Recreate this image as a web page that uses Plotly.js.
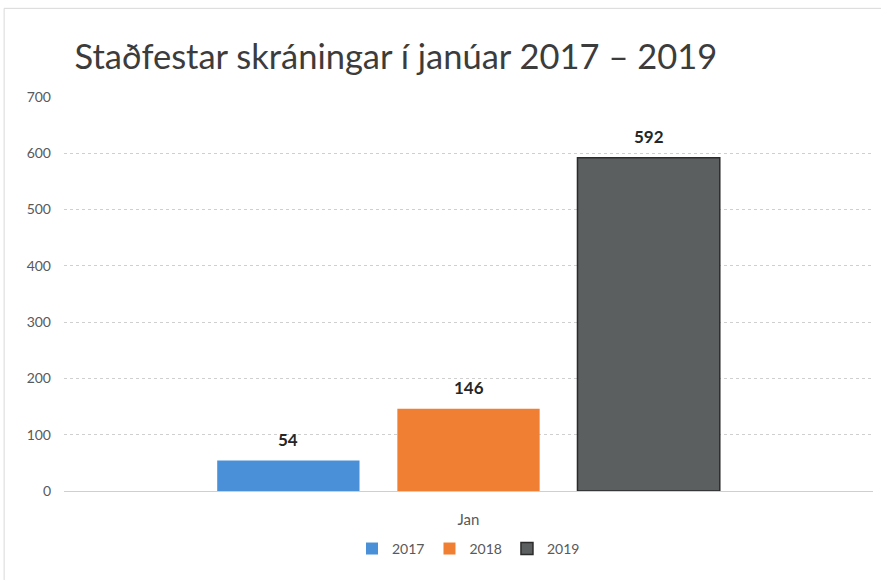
<!DOCTYPE html>
<html>
<head>
<meta charset="utf-8">
<script src="https://cdn.plot.ly/plotly-3.0.1.min.js"></script>
<style>html,body{margin:0;padding:0;background:#fff;}#chart{width:881px;height:580px;}</style>
</head>
<body>
<div id="chart"></div>
<script>
const categories = ["Jan"];
const seriesNames = ["2017", "2018", "2019"];
const values2017 = [54];
const values2018 = [146];
const values2019 = [592];
const yTicks = [0, 100, 200, 300, 400, 500, 600, 700];

const colors = ["#4a90d8", "#f07f33", "#5b5f60"];
const lineColors = ["#4a90d8", "#f07f33", "#2b2b2b"];
const allValues = [values2017, values2018, values2019];

const W = 881, H = 580;
const margin = {l: 64, r: 8, t: 97, b: 89};
const bargap = 0.332, bargroupgap = 0.21;
const plotW = W - margin.l - margin.r;
const slot = plotW * (1 - bargap) / seriesNames.length;

const traces = seriesNames.map((name, i) => ({
  type: "bar",
  name: name,
  x: categories,
  y: allValues[i],
  marker: {color: colors[i], line: {color: lineColors[i], width: i === 2 ? 1.5 : 0}}
}));

const annotations = [];
seriesNames.forEach((name, i) => {
  allValues[i].forEach((v, j) => {
    annotations.push({
      x: categories[j], y: v, xref: "x", yref: "y",
      text: "<b>" + v + "</b>", showarrow: false,
      xshift: (i - (seriesNames.length - 1) / 2) * slot,
      yshift: 21, yanchor: "middle",
      font: {family: "Lato, 'Open Sans', sans-serif", size: 17, color: "#262626"}
    });
  });
});

const layout = {
  width: W, height: H,
  paper_bgcolor: "#ffffff", plot_bgcolor: "#ffffff",
  margin: margin,
  font: {family: "Lato, 'Open Sans', sans-serif", color: "#595959"},
  title: {
    text: "Staðfestar skráningar í janúar 2017 – 2019",
    font: {family: "Lato, 'Open Sans', sans-serif", size: 34.5, color: "#3c3c3c"},
    x: 0.013, xanchor: "left", xref: "paper",
    y: 0.902, yanchor: "middle"
  },
  barmode: "group",
  bargap: bargap,
  bargroupgap: bargroupgap,
  showlegend: true,
  legend: {
    orientation: "h", x: 0.5, xanchor: "center", y: -0.147, yanchor: "middle",
    font: {size: 14, color: "#595959"}, itemwidth: 30, traceorder: "normal"
  },
  annotations: annotations,
  xaxis: {
    type: "category",
    showline: false, showgrid: false, zeroline: false,
    tickfont: {size: 15, color: "#595959"},
    ticks: "", ticklen: 0, ticklabelstandoff: 18
  },
  yaxis: {
    range: [0, 700],
    tickvals: yTicks,
    ticktext: yTicks.map(String),
    showgrid: true, gridcolor: "#cfcfcf", griddash: "dot", gridwidth: 1,
    zeroline: true, zerolinecolor: "#cfcfcf", zerolinewidth: 1,
    showline: false,
    tickfont: {size: 14, color: "#595959"},
    ticklabelstandoff: 12
  },
  shapes: [
    {type: "line", xref: "paper", yref: "paper", x0: -0.074, x1: 1.02, y0: 1.225, y1: 1.225, line: {color: "#d9d9d9", width: 1}},
    {type: "line", xref: "paper", yref: "paper", x0: -0.074, x1: -0.074, y0: 1.225, y1: -0.25, line: {color: "#d9d9d9", width: 1}}
  ]
};

Plotly.newPlot("chart", traces, layout, {displayModeBar: false, staticPlot: true});
</script>
</body>
</html>
